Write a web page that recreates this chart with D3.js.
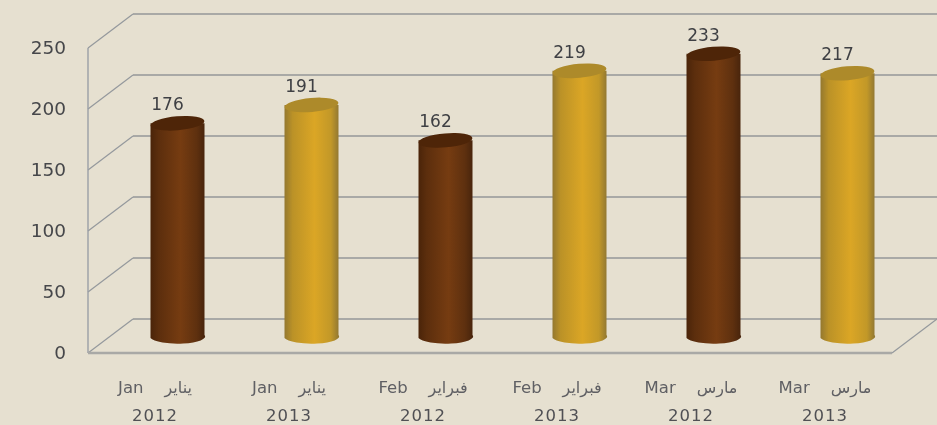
<!DOCTYPE html>
<html><head><meta charset="utf-8">
<script src="https://d3js.org/d3.v7.min.js"></script>
<style>html,body{margin:0;padding:0;background:#e6e0d0;overflow:hidden}svg{display:block;filter:blur(.6px)}</style>
</head><body><svg id="c" width="937" height="425"></svg>
<script>
const monthsEn = ["Jan","Jan","Feb","Feb","Mar","Mar"];
const monthsAr = ["يناير","يناير","فبراير","فبراير","مارس","مارس"];
const years = ["2012","2013","2012","2013","2012","2013"];
const values = [176,191,162,219,233,217];
const yTicks = [0,50,100,150,200,250];

const svg = d3.select("#c");
const depthX = 45, depthY = -34;
const x = d3.scaleBand().domain(d3.range(values.length)).range([88,892]);
const y = d3.scaleLinear().domain([0,250]).range([353,48]);
const defs = svg.append("defs");
function grad(id, stops){
  const g = defs.append("linearGradient").attr("id",id);
  stops.forEach(([o,c])=>g.append("stop").attr("offset",o).attr("stop-color",c));
}
grad("brown",[[0,"#4a2409"],[.15,"#5c2e0d"],[.55,"#763c11"],[.85,"#5e300f"],[1,"#47240c"]]);
grad("gold",[[0,"#94782f"],[.15,"#bb9227"],[.55,"#dba625"],[.85,"#c29828"],[1,"#8f7632"]]);
const fills = ["brown","gold"], tops = ["#4e2508","#ad8a2a"];

// back wall gridlines and side wall diagonals
const back = svg.append("g"), right = x.range()[1];
back.selectAll(".grid").data(yTicks).join("line").attr("class","grid")
  .attr("x1",x.range()[0]+depthX).attr("x2",right+depthX)
  .attr("y1",d=>y(d)+depthY).attr("y2",d=>y(d)+depthY)
  .attr("stroke","#a9a9a6").attr("stroke-width",1.8);
back.selectAll(".diag").data(yTicks).join("line").attr("class","diag")
  .attr("x1",x.range()[0]).attr("x2",x.range()[0]+depthX)
  .attr("y1",d=>y(d)).attr("y2",d=>y(d)+depthY)
  .attr("stroke","#94989c").attr("stroke-width",1.2);
back.append("line").attr("x1",x.range()[0]).attr("x2",x.range()[0])
  .attr("y1",y(250)).attr("y2",y(0)).attr("stroke","#9a9fa6").attr("stroke-width",1.4);
back.append("line").attr("x1",x.range()[0]).attr("x2",right)
  .attr("y1",y(0)).attr("y2",y(0)).attr("stroke","#a9a9a6").attr("stroke-width",2.4);
back.append("line").attr("x1",right).attr("x2",right+depthX)
  .attr("y1",y(0)).attr("y2",y(0)+depthY).attr("stroke","#94989c").attr("stroke-width",1.2);

// cylinders
const bw = 54, ry = 7, offX = depthX/2, offY = depthY/2 + 2;
const bars = svg.append("g").selectAll("g").data(values).join("g")
  .attr("transform",(d,i)=>`translate(${x(i)+x.bandwidth()/2+offX},0)`);
bars.append("path")
  .attr("d",d=>{
    const t = y(d)+offY, b = y(0)+offY, r = bw/2;
    return `M${-r},${t}L${-r},${b}A${r},${ry} 0 0 0 ${r},${b-3}L${r},${t}Z`;
  })
  .attr("fill",(d,i)=>`url(#${fills[i%2]})`);
bars.append("ellipse").attr("rx",bw/2).attr("ry",ry)
  .attr("cy",d=>y(d)+offY)
  .attr("transform",d=>`rotate(-5 0 ${y(d)+offY})`)
  .attr("fill",(d,i)=>tops[i%2]);
bars.append("text").text(d=>d).attr("x",-10).attr("y",d=>y(d)+offY-13)
  .attr("text-anchor","middle").attr("font-family","DejaVu Sans").attr("font-size",17).attr("fill","#3f4044");

// y axis labels
svg.append("g").selectAll("text").data(yTicks).join("text").text(d=>d)
  .attr("x",66).attr("y",d=>y(d)+6).attr("text-anchor","end")
  .attr("font-family","DejaVu Sans").attr("font-size",18.5).attr("fill","#46474a");

// category labels
const cat = svg.append("g").selectAll("g").data(values).join("g")
  .attr("transform",(d,i)=>`translate(${x(i)+x.bandwidth()/2},0)`)
  .attr("font-family","DejaVu Sans").attr("fill","#606064").attr("text-anchor","middle");
const t1 = cat.append("text").attr("y",393).attr("font-size",16.5);
t1.append("tspan").text((d,i)=>monthsEn[i]+"\u00a0\u00a0\u00a0\u00a0");
t1.append("tspan").attr("font-size",16).text((d,i)=>monthsAr[i]);
cat.append("text").attr("y",421).attr("font-size",16.5).attr("letter-spacing",1).attr("fill","#505054").text((d,i)=>years[i]);
</script></body></html>
